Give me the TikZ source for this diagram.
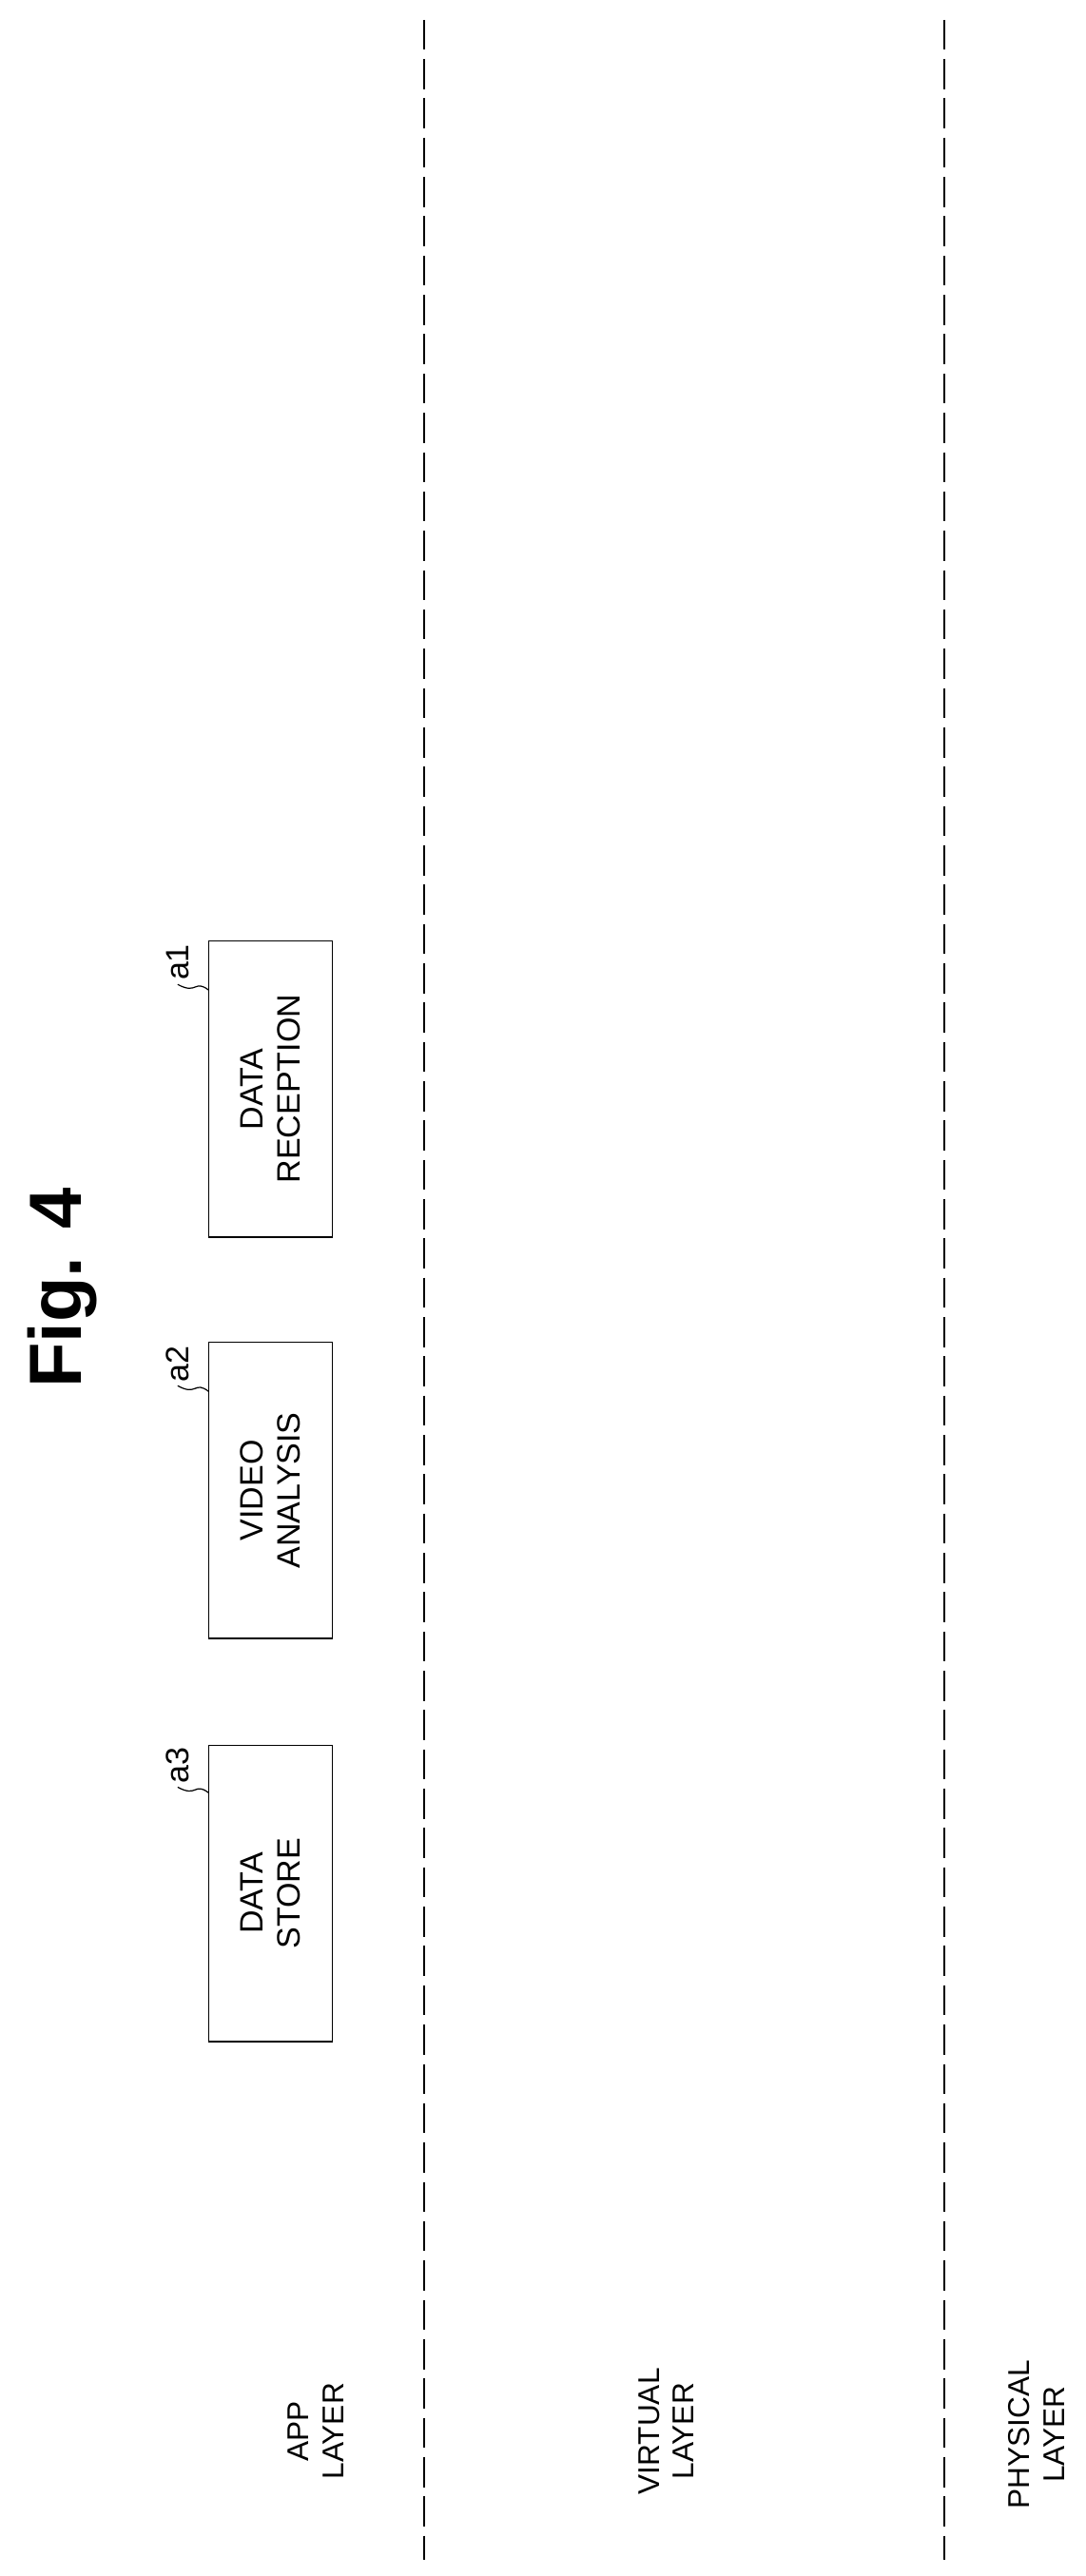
\documentclass[tikz,border=0pt]{standalone}
\usepackage{fontspec}
\setmainfont{Liberation Sans}
\begin{document}
\begin{tikzpicture}[x=0.05cm,y=-0.05cm,
  box/.style={draw,line width=1.3pt,minimum width=180*0.05cm,minimum height=75*0.05cm,rotate=90,align=center,font=\fontsize{28}{32}\selectfont,inner sep=0pt},
  lbl/.style={rotate=90,font=\fontsize{28}{32}\selectfont},
  layer/.style={rotate=90,align=center,font=\fontsize{26}{30}\selectfont},
  sep/.style={line width=1.6pt,dash pattern=on 26pt off 8pt}]
\useasboundingbox (0,0) rectangle (660,1566);
\node[rotate=90,font=\bfseries\fontsize{64}{68}\selectfont] (fig) at (38,783) {Fig. 4};
\node[box] (a1) at (164.5,662) {DATA\\RECEPTION};
\node[box] (a2) at (164.5,906) {VIDEO\\ANALYSIS};
\node[box] (a3) at (164.5,1151) {DATA\\STORE};
\node[lbl] (l1) at (108,585) {a1};
\node[lbl] (l2) at (108,829) {a2};
\node[lbl] (l3) at (108,1073) {a3};
\draw[line width=1pt] (l1.west) .. controls (120,605) and (118,595) .. (127,602);
\draw[line width=1pt] (l2.west) .. controls (120,849) and (118,839) .. (127,846);
\draw[line width=1pt] (l3.west) .. controls (120,1093) and (118,1083) .. (127,1090);
\coordinate (s1a) at (258,12); \coordinate (s1b) at (258,1556);
\coordinate (s2a) at (574,12); \coordinate (s2b) at (574,1556);
\draw[sep] (s1a) -- (s1b);
\draw[sep] (s2a) -- (s2b);
\node[layer] (app) at (192,1478) {APP\\LAYER};
\node[layer] (virt) at (405,1478) {VIRTUAL\\LAYER};
\node[layer] (phys) at (630,1480) {PHYSICAL\\LAYER};
\end{tikzpicture}
\end{document}
